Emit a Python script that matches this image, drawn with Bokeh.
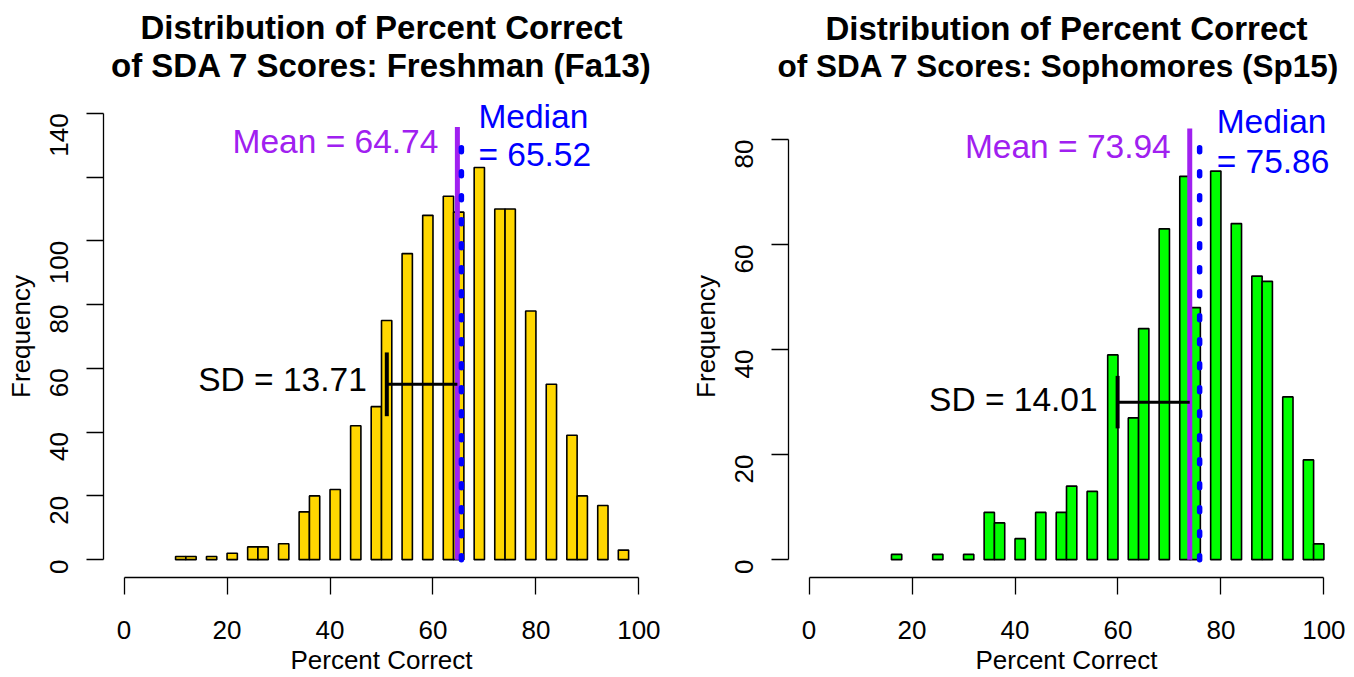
import math
from bokeh.plotting import figure
from bokeh.layouts import row
from bokeh.models import Range1d, FixedTicker, Title
from bokeh.core.properties import value
from bokeh.embed import file_html
from bokeh.resources import INLINE

FONT = "Liberation Sans"

# ---- data ----
bin_width = 2
x_ticks = [0, 20, 40, 60, 80, 100]

fr_title = ["Distribution of Percent Correct", "of SDA 7 Scores: Freshman (Fa13)"]
fr_bin_left = [10, 12, 16, 20, 24, 26, 30, 34, 36, 40, 44, 48, 50, 54, 58, 62, 64,
               68, 72, 74, 78, 82, 86, 88, 92, 96]
fr_counts = [1, 1, 1, 2, 4, 4, 5, 15, 20, 22, 42, 48, 75, 96, 108, 114, 109,
             123, 110, 110, 78, 55, 39, 20, 17, 3]
fr_mean, fr_median, fr_sd = 64.74, 65.52, 13.71
fr_y_ticks = [0, 20, 40, 60, 80, 100, 120, 140]
fr_y_hidden = [120]

so_title = ["Distribution of Percent Correct", "of SDA 7 Scores: Sophomores (Sp15)"]
so_bin_left = [16, 24, 30, 34, 36, 40, 44, 48, 50, 54, 58, 62, 64, 68, 72, 74, 78,
               82, 86, 88, 92, 96, 98]
so_counts = [1, 1, 1, 9, 7, 4, 9, 9, 14, 13, 39, 27, 44, 63, 73, 48, 74,
             64, 54, 53, 31, 19, 3]
so_mean, so_median, so_sd = 73.94, 75.86, 14.01
so_y_ticks = [0, 20, 40, 60, 80]
so_y_hidden = []

PURPLE = "#A020F0"
BLUE = "#0000FF"


def panel(title, bin_left, counts, fill, mean, median, sd, y_ticks, y_hidden,
          y_range, ann, width, bl, br, t2_size="33px", t2_align="center",
          t2_offset=0):
    p = figure(width=width, height=677, x_range=Range1d(-4, 104),
               y_range=Range1d(*y_range), output_backend="svg",
               toolbar_location=None, title=None,
               min_border_left=bl, min_border_right=br,
               min_border_top=95, min_border_bottom=93)
    p.add_layout(Title(text=title[1], align=t2_align, text_font=FONT,
                       text_font_size=t2_size, text_font_style="bold",
                       text_color="black", standoff=23, offset=t2_offset), "above")
    p.add_layout(Title(text=title[0], align="center", text_font=FONT,
                       text_font_size="33px", text_font_style="bold",
                       text_color="black", standoff=-25), "above")
    p.outline_line_color = None
    p.xgrid.visible = False
    p.ygrid.visible = False

    p.xaxis.ticker = FixedTicker(ticks=x_ticks)
    p.xaxis.bounds = (0, 100)
    p.yaxis.ticker = FixedTicker(ticks=y_ticks)
    p.yaxis.bounds = (y_ticks[0], y_ticks[-1])
    p.yaxis.major_label_overrides = {t: "" for t in y_hidden}
    p.yaxis.major_label_orientation = math.pi / 2
    p.xaxis.axis_label = "Percent Correct"
    p.yaxis.axis_label = "Frequency"
    for ax in (p.xaxis[0], p.yaxis[0]):
        ax.major_tick_out = 17
        ax.major_tick_in = 0
        ax.minor_tick_out = 0
        ax.minor_tick_in = 0
        ax.axis_line_width = 1.3
        ax.major_tick_line_width = 1.3
        ax.axis_line_color = "black"
        ax.major_tick_line_color = "black"
        ax.major_label_text_font = FONT
        ax.major_label_text_font_size = "26px"
        ax.major_label_text_color = "black"
        ax.axis_label_text_font = FONT
        ax.axis_label_text_font_size = "26px"
        ax.axis_label_text_font_style = "normal"
        ax.axis_label_text_color = "black"
    p.xaxis.major_label_standoff = 26
    p.xaxis.axis_label_standoff = 3
    p.yaxis.major_label_standoff = 27
    p.yaxis.axis_label_standoff = 3

    rights = [b + bin_width for b in bin_left]
    p.quad(left=bin_left, right=rights, bottom=0, top=counts,
           fill_color=fill, line_color="black", line_width=1.6)

    # mean and median lines
    p.segment(x0=[mean], y0=[0], x1=[mean], y1=[ann["mean_top"]],
              line_color=PURPLE, line_width=5)
    p.segment(x0=[median], y0=[0], x1=[median], y1=[ann["median_top"]],
              line_color=BLUE, line_width=5.5, line_dash="4 20", line_cap="round")

    # SD marker
    lo = mean - sd
    p.segment(x0=[lo], y0=[ann["sd_y"]], x1=[mean], y1=[ann["sd_y"]],
              line_color="black", line_width=3)
    p.segment(x0=[lo], y0=[ann["sd_y"] - ann["sd_h"]], x1=[lo],
              y1=[ann["sd_y"] + ann["sd_h"]], line_color="black", line_width=4)

    common = dict(text_baseline="middle", text_font=value(FONT),
                  text_font_size="33.5px")
    p.text(x=[mean], y=[ann["mean_ty"]], text=[f"Mean = {mean:.2f}"],
           text_align="right", x_offset=-19, text_color=PURPLE, **common)
    p.text(x=[median], y=[ann["med_ty1"]], text=["Median"],
           text_align="left", x_offset=17, text_color=BLUE, **common)
    p.text(x=[median], y=[ann["med_ty2"]], text=[f"= {median:.2f}"],
           text_align="left", x_offset=17, text_color=BLUE, **common)
    p.text(x=[lo], y=[ann["sd_ty"]], text=[f"SD = {sd:.2f}"],
           text_align="right", x_offset=-20, text_color="black", **common)
    return p


p1 = panel(fr_title, fr_bin_left, fr_counts, "#FFD700", fr_mean, fr_median, fr_sd,
           fr_y_ticks, fr_y_hidden, (-5.6, 145.6),
           dict(mean_top=135.7, median_top=130.7, sd_y=55, sd_h=10, sd_ty=56.4,
                mean_ty=131.1, med_ty1=139.1, med_ty2=127.0),
           677, 103, 18)
p2 = panel(so_title, so_bin_left, so_counts, "#00FF00", so_mean, so_median, so_sd,
           so_y_ticks, so_y_hidden, (-3.4, 88.4),
           dict(mean_top=82.1, median_top=79.4, sd_y=30, sd_h=5, sd_ty=30.5,
                mean_ty=78.6, med_ty1=83.4, med_ty2=75.9),
           677, 111, 10, t2_size="31.5px", t2_align="left", t2_offset=-11)

layout = row(p1, p2)
open("out.html", "w").write(file_html(layout, INLINE))
